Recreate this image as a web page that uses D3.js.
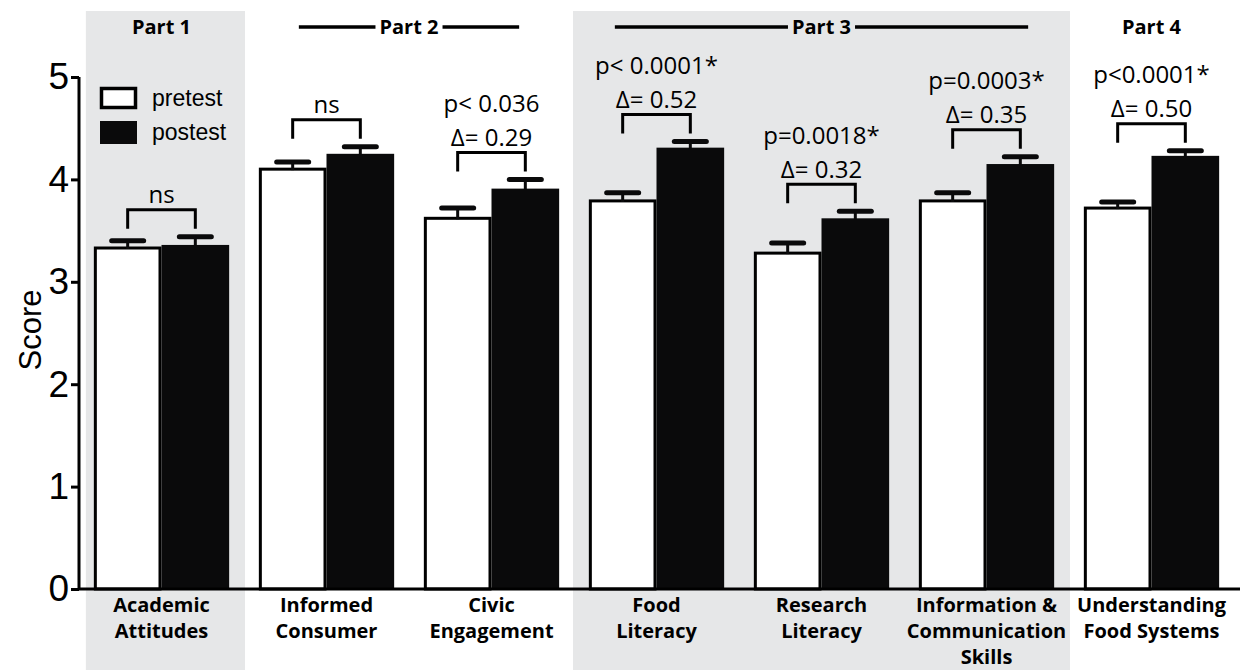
<!DOCTYPE html>
<html lang="en">
<head>
<meta charset="utf-8">
<title>Score pretest / postest</title>
<script src="https://cdn.jsdelivr.net/npm/d3@7"></script>
<style>
  body { margin: 0; background: #fff; }
  .tick text { font-family: "Liberation Sans", Arial, sans-serif; }
  .cat { font-family: "Open Sans", sans-serif; font-weight: bold; font-size: 20px; }
  .part { font-family: "Open Sans", sans-serif; font-weight: bold; font-size: 20px; }
  .ann { font-family: "Open Sans", sans-serif; font-size: 24px; }
</style>
</head>
<body>
<div id="chart"></div>
<script>
var categories = [["Academic", "Attitudes"], ["Informed", "Consumer"], ["Civic", "Engagement"],
  ["Food", "Literacy"], ["Research", "Literacy"], ["Information &", "Communication", "Skills"],
  ["Understanding", "Food Systems"]];
var pretest = [3.33, 4.10, 3.62, 3.79, 3.28, 3.79, 3.72];
var pretestErr = [0.07, 0.07, 0.10, 0.08, 0.10, 0.08, 0.06];
var postest = [3.36, 4.25, 3.91, 4.31, 3.62, 4.15, 4.23];
var postestErr = [0.08, 0.07, 0.09, 0.06, 0.07, 0.07, 0.05];
var pLabels = ["", "", "p< 0.036", "p< 0.0001*", "p=0.0018*", "p=0.0003*", "p<0.0001*"];
var deltaLabels = ["ns", "ns", "\u0394= 0.29", "\u0394= 0.52", "\u0394= 0.32", "\u0394= 0.35", "\u0394= 0.50"];
var parts = ["Part 1", "Part 2", "Part 3", "Part 4"];
var partFirst = [0, 1, 3, 6];
var partLast = [0, 2, 5, 6];
var shadedParts = [0, 2];
var yTicks = [0, 1, 2, 3, 4, 5];

var width = 1240, height = 670;
var svg = d3.select("#chart").append("svg")
    .attr("width", width).attr("height", height);

var x = d3.scaleBand()
    .domain(d3.range(categories.length))
    .range([79, 1234])
    .paddingInner(0.18)
    .paddingOuter(0.09);
var xs = d3.scaleBand().domain(["pre", "post"]).range([0, x.bandwidth()]);
var y = d3.scaleLinear().domain([0, 5]).range([589, 77]);

// grey bands behind parts 1 and 3
var gap = x.step() - x.bandwidth();
function bandLeft(p) { return p == 0 ? x(partFirst[p]) - 8 : x(partFirst[p]) - gap / 2 - 1; }
svg.selectAll(".band")
    .data(shadedParts)
  .enter().append("rect")
    .attr("class", "band")
    .attr("x", bandLeft)
    .attr("width", function(p) { return x(partLast[p]) + x.bandwidth() + gap / 2 + 1 - bandLeft(p); })
    .attr("y", 11).attr("height", height - 11)
    .attr("fill", "#e6e7e8");

// part headers
parts.forEach(function(lbl, p) {
  var x0 = x(partFirst[p]), x1 = x(partLast[p]) + x.bandwidth();
  var cx = (x0 + x1) / 2;
  var t = svg.append("text").attr("class", "part")
      .attr("x", cx).attr("y", 27).attr("dy", "0.35em")
      .attr("text-anchor", "middle").text(lbl);
  if (partFirst[p] != partLast[p]) {
    var w = t.node().getComputedTextLength();
    var inset = p == 1 ? 40 : 26;
    svg.append("line").attr("x1", x0 + inset).attr("x2", cx - w / 2 - 4)
      .attr("y1", 27).attr("y2", 27).attr("stroke", "#000").attr("stroke-width", 3.5);
    svg.append("line").attr("x1", cx + w / 2 + 4).attr("x2", x1 - inset)
      .attr("y1", 27).attr("y2", 27).attr("stroke", "#000").attr("stroke-width", 3.5);
  }
});

// bars
var groups = svg.selectAll(".grp")
    .data(categories)
  .enter().append("g")
    .attr("class", "grp")
    .attr("transform", function(d, i) { return "translate(" + x(i) + ",0)"; });

groups.append("rect")
    .attr("x", xs("pre") + 1.5)
    .attr("y", function(d, i) { return y(pretest[i]); })
    .attr("width", xs.bandwidth() - 3)
    .attr("height", function(d, i) { return y(0) - y(pretest[i]); })
    .attr("fill", "#fff").attr("stroke", "#000").attr("stroke-width", 3);
groups.append("rect")
    .attr("x", xs("post"))
    .attr("y", function(d, i) { return y(postest[i]); })
    .attr("width", xs.bandwidth())
    .attr("height", function(d, i) { return y(0) - y(postest[i]); })
    .attr("fill", "#0a0a0b");

// error bars (upper only)
function errBar(key, vals, errs) {
  var cx = xs(key) + xs.bandwidth() / 2;
  groups.append("line")
      .attr("x1", cx).attr("x2", cx)
      .attr("y1", function(d, i) { return y(vals[i]) + 1; })
      .attr("y2", function(d, i) { return y(vals[i] + errs[i]); })
      .attr("stroke", "#0a0a0b").attr("stroke-width", 3);
  groups.append("line")
      .attr("x1", cx - 16).attr("x2", cx + 16)
      .attr("y1", function(d, i) { return y(vals[i] + errs[i]); })
      .attr("y2", function(d, i) { return y(vals[i] + errs[i]); })
      .attr("stroke", "#0a0a0b").attr("stroke-width", 5).attr("stroke-linecap", "round");
}
errBar("pre", pretest, pretestErr);
errBar("post", postest, postestErr);

// brackets + annotations
var bx0 = xs("pre") + xs.bandwidth() / 2, bx1 = xs("post") + xs.bandwidth() / 2;
function bracketTop(i) {
  var top = Math.max(pretest[i] + pretestErr[i], postest[i] + postestErr[i]);
  return y(top) - 8 - 19;
}
groups.append("path")
    .attr("d", function(d, i) {
      var t = bracketTop(i);
      return "M" + bx0 + "," + (t + 19) + "V" + t + "H" + bx1 + "V" + (t + 19);
    })
    .attr("fill", "none").attr("stroke", "#000").attr("stroke-width", 3);
groups.append("text").attr("class", "ann")
    .attr("x", (bx0 + bx1) / 2)
    .attr("y", function(d, i) { return bracketTop(i) - 15; })
    .attr("dy", "0.35em").attr("text-anchor", "middle")
    .text(function(d, i) { return deltaLabels[i]; });
groups.append("text").attr("class", "ann")
    .attr("x", (bx0 + bx1) / 2)
    .attr("y", function(d, i) { return bracketTop(i) - 49; })
    .attr("dy", "0.35em").attr("text-anchor", "middle")
    .text(function(d, i) { return pLabels[i]; });

// category labels
groups.append("text").attr("class", "cat")
    .attr("text-anchor", "middle")
    .attr("transform", "translate(" + x.bandwidth() / 2 + ",0)")
  .selectAll("tspan")
    .data(function(d) { return d; })
  .enter().append("tspan")
    .attr("x", 0)
    .attr("y", function(d, j) { return 605 + j * 26; })
    .attr("dy", "0.35em")
    .text(function(d) { return d; });

// axes
var yAxis = svg.append("g")
    .attr("transform", "translate(79,0)")
    .call(d3.axisLeft(y).tickValues(yTicks).tickSize(8).tickPadding(2).tickFormat(d3.format("d")));
yAxis.select(".domain").attr("stroke-width", 3).attr("d", "M0," + y(5) + "V" + y(0));
yAxis.selectAll(".tick line").attr("stroke-width", 3);
yAxis.selectAll(".tick text").attr("font-size", 37).attr("fill", "#000");

svg.append("line")
    .attr("x1", 79).attr("x2", width)
    .attr("y1", y(0)).attr("y2", y(0))
    .attr("stroke", "#000").attr("stroke-width", 3);

svg.append("text")
    .attr("transform", "translate(30," + 330 + ") rotate(-90)")
    .attr("text-anchor", "middle").attr("dy", "0.35em")
    .attr("font-family", "Liberation Sans, Arial, sans-serif")
    .attr("font-size", 31)
    .text("Score");

// legend
var legend = svg.append("g").attr("transform", "translate(100,87)");
legend.append("rect").attr("x", 1.5).attr("y", 1.5).attr("width", 34).attr("height", 19)
    .attr("fill", "#fff").attr("stroke", "#000").attr("stroke-width", 3.5);
legend.append("rect").attr("x", 0).attr("y", 34).attr("width", 37).attr("height", 23)
    .attr("fill", "#0a0a0b");
legend.selectAll(".lt")
    .data(["pretest", "postest"])
  .enter().append("text")
    .attr("x", 52).attr("y", function(d, i) { return 11 + i * 34; })
    .attr("dy", "0.35em")
    .attr("font-family", "Liberation Sans, Arial, sans-serif")
    .attr("font-size", 23)
    .text(function(d) { return d; });
</script>
</body>
</html>
